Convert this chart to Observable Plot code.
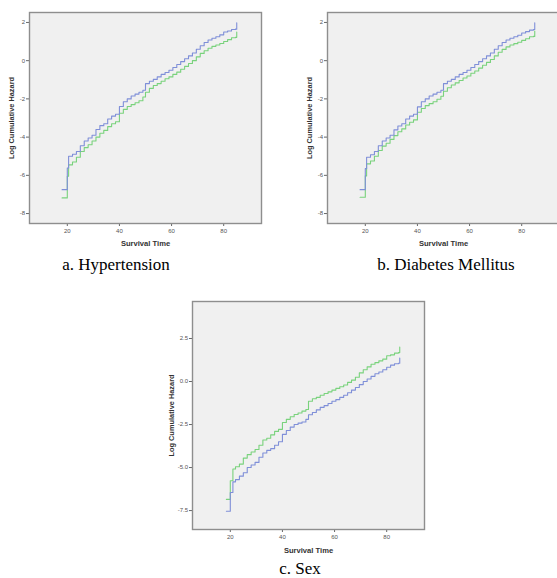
<!DOCTYPE html>
<html>
<head>
<meta charset="utf-8">
<script src="https://cdn.jsdelivr.net/npm/d3@7"></script>
<script src="https://cdn.jsdelivr.net/npm/@observablehq/plot@0.6"></script>
<style>
  html, body { margin: 0; padding: 0; background: #fff; width: 557px; height: 578px; overflow: hidden; position: relative; }
  .panel { position: absolute; width: 278px; }
  .panel svg { max-width: none !important; display: block; }
  .cap { position: absolute; font-family: "Liberation Serif", "DejaVu Serif", "Times New Roman", serif; font-size: 17px; color: #000; white-space: nowrap; transform: translateX(-50%); line-height: 1; }
</style>
</head>
<body>
<div id="pa" class="panel" style="left:0px;top:0px;"></div>
<div id="pb" class="panel" style="left:298px;top:0px;"></div>
<div id="pc" class="panel" style="left:163px;top:289px;"></div>
<div class="cap" style="left:116px;top:256px;">a. Hypertension</div>
<div class="cap" style="left:446px;top:256px;">b. Diabetes Mellitus</div>
<div class="cap" style="left:300px;top:560px;">c. Sex</div>
<script>
// Time points (survival time) for panels a and b
const times = [18, 20, 20.5, 22, 23.5, 25, 26.5, 28, 29.5, 31, 32.5, 34, 35.5, 37, 38.5, 40, 41.5, 43, 44.5, 46, 47.5, 49, 50, 51.5, 53, 54.5, 56, 57.5, 59, 60.5, 62, 63.5, 65, 66.5, 68, 69.5, 71, 72.5, 74, 75.5, 77, 78.5, 80, 81.5, 83, 84.5, 85];
// Time points for panel c
const timesC = [18.5, 20, 21, 22, 23.5, 25, 26.5, 28, 29.5, 31, 32.5, 34, 35.5, 37, 38.5, 40, 41.5, 43, 44.5, 46, 47.5, 49, 50, 51.5, 53, 54.5, 56, 57.5, 59, 60.5, 62, 63.5, 65, 66.5, 68, 69.5, 71, 72.5, 74, 75.5, 77, 78.5, 80, 81.5, 83, 84.5, 85];

// a. Hypertension
const hypBlue = [-6.75, -5.62, -5.0, -4.9, -4.75, -4.45, -4.2, -4.05, -3.9, -3.6, -3.4, -3.3, -3.05, -2.9, -2.8, -2.4, -2.15, -2.0, -1.85, -1.75, -1.65, -1.55, -1.2, -1.08, -0.98, -0.85, -0.72, -0.62, -0.5, -0.36, -0.2, -0.05, 0.1, 0.25, 0.4, 0.6, 0.78, 0.95, 1.08, 1.17, 1.25, 1.35, 1.5, 1.55, 1.63, 1.65, 1.98];
const hypGreen = [-7.18, -6.05, -5.45, -5.3, -5.05, -4.75, -4.55, -4.4, -4.2, -4.0, -3.8, -3.65, -3.45, -3.3, -3.2, -2.75, -2.55, -2.4, -2.3, -2.2, -2.1, -1.9, -1.65, -1.45, -1.3, -1.2, -1.08, -0.95, -0.85, -0.72, -0.6, -0.45, -0.3, -0.15, 0.0, 0.2, 0.38, 0.52, 0.65, 0.75, 0.82, 0.9, 1.0, 1.1, 1.2, 1.22, 1.5];

// b. Diabetes Mellitus
const dmBlue = [-6.75, -5.65, -5.05, -4.92, -4.75, -4.45, -4.2, -4.05, -3.9, -3.62, -3.42, -3.3, -3.05, -2.9, -2.8, -2.42, -2.15, -2.0, -1.85, -1.75, -1.65, -1.55, -1.2, -1.08, -0.98, -0.85, -0.72, -0.62, -0.5, -0.36, -0.2, -0.05, 0.1, 0.25, 0.4, 0.6, 0.78, 0.95, 1.08, 1.17, 1.25, 1.33, 1.45, 1.52, 1.6, 1.63, 1.98];
const dmGreen = [-7.15, -6.03, -5.4, -5.25, -5.0, -4.7, -4.47, -4.32, -4.12, -3.92, -3.72, -3.57, -3.37, -3.22, -3.1, -2.7, -2.5, -2.35, -2.25, -2.15, -2.02, -1.86, -1.6, -1.42, -1.27, -1.16, -1.04, -0.91, -0.8, -0.66, -0.54, -0.39, -0.24, -0.09, 0.06, 0.25, 0.44, 0.59, 0.72, 0.82, 0.89, 0.96, 1.06, 1.15, 1.25, 1.27, 1.55];

// c. Sex
const sexGreen = [-6.85, -5.77, -5.08, -4.95, -4.8, -4.45, -4.25, -4.1, -3.95, -3.7, -3.4, -3.3, -3.1, -2.9, -2.78, -2.38, -2.2, -2.05, -1.92, -1.83, -1.72, -1.63, -1.15, -1.0, -0.92, -0.8, -0.7, -0.6, -0.5, -0.4, -0.3, -0.2, -0.05, 0.08, 0.25, 0.5, 0.68, 0.85, 1.0, 1.1, 1.2, 1.3, 1.5, 1.55, 1.65, 1.68, 2.0];
const sexBlue = [-7.54, -6.45, -5.83, -5.7, -5.5, -5.3, -5.0, -4.85, -4.7, -4.4, -4.15, -4.0, -3.9, -3.7, -3.5, -3.07, -2.85, -2.65, -2.5, -2.42, -2.35, -2.2, -1.93, -1.8, -1.65, -1.5, -1.4, -1.28, -1.15, -1.05, -0.92, -0.8, -0.65, -0.5, -0.35, -0.18, 0.0, 0.15, 0.3, 0.45, 0.55, 0.68, 0.83, 0.95, 1.03, 1.06, 1.36];

const xTicks = [20, 40, 60, 80];
const yTicksAB = [2, 0, -2, -4, -6, -8];
const yTicksC = [2.5, 0, -2.5, -5, -7.5];

const BLUE = "#7f8fd8";
const GREEN = "#79d27c";

function rows(t, v) { return t.map((ti, i) => ({t: ti, v: v[i]})); }

function panel({t, blue, green, yDomain, yTicks, yFmt, height, yLabelDx, xLabelDy}) {
  return Plot.plot({
    width: 278,
    height,
    marginLeft: 29,
    marginRight: 17,
    marginTop: 12,
    marginBottom: 27,
    style: {background: "transparent", fontFamily: "Liberation Sans, Arial, sans-serif", maxWidth: "none"},
    x: {domain: [5.5, 94.5]},
    y: {domain: yDomain},
    marks: [
      Plot.frame({fill: "#f0f0f0", stroke: null}),
      Plot.axisX({ticks: xTicks, tickSize: 3, tickPadding: 2, fontSize: 6, fill: "#555", stroke: "#666", label: null, tickFormat: d => String(d)}),
      Plot.axisY({ticks: yTicks, tickSize: 3, tickPadding: 1.5, fontSize: 6, fill: "#555", stroke: "#666", label: null, tickFormat: yFmt}),
      Plot.line(rows(t, green), {x: "t", y: "v", curve: "step-after", stroke: GREEN, strokeWidth: 1.1}),
      Plot.line(rows(t, blue), {x: "t", y: "v", curve: "step-after", stroke: BLUE, strokeWidth: 1.1}),
      Plot.frame({stroke: "#8e8e8e", strokeWidth: 1.4}),
      Plot.text(["Survival Time"], {frameAnchor: "bottom", dy: xLabelDy, fontSize: 7.6, fontWeight: "bold", fill: "#333", lineAnchor: "middle"}),
      Plot.text(["Log Cumulative Hazard"], {frameAnchor: "left", dx: yLabelDx, rotate: -90, fontSize: 7.4, fontWeight: "bold", fill: "#333", lineAnchor: "middle", textAnchor: "middle"})
    ]
  });
}

const fmtInt = d => String(d);
const fmt1 = d => d.toFixed(1);

document.getElementById("pa").appendChild(panel({t: times, blue: hypBlue, green: hypGreen, yDomain: [-8.52, 2.52], yTicks: yTicksAB, yFmt: fmtInt, height: 250, yLabelDx: -18, xLabelDy: 20}));
document.getElementById("pb").appendChild(panel({t: times, blue: dmBlue, green: dmGreen, yDomain: [-8.52, 2.52], yTicks: yTicksAB, yFmt: fmtInt, height: 250, yLabelDx: -18, xLabelDy: 20}));
document.getElementById("pc").appendChild(panel({t: timesC, blue: sexBlue, green: sexGreen, yDomain: [-8.6, 4.65], yTicks: yTicksC, yFmt: fmt1, height: 267, yLabelDx: -21, xLabelDy: 21}));
</script>
</body>
</html>
